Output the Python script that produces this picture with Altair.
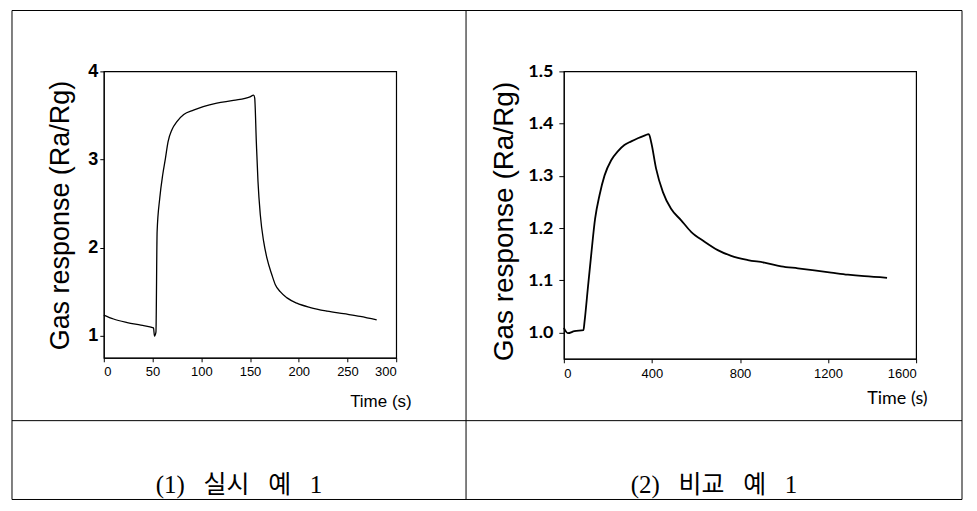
import altair as alt
import pandas as pd

# ---- data ----
t1 = [0, 10, 24, 38, 51, 52, 53.5, 54.7, 57.4, 60.5, 63.2, 65.9, 70, 75, 82, 92, 102, 116, 133, 150, 153.7,
      154.8, 156.5, 158.2, 160.6, 164, 167.4, 172.5, 176, 181, 188, 198, 212, 229, 246, 263, 280]
v1 = [1.235, 1.19, 1.15, 1.12, 1.09, 0.995, 1.04, 2.18, 2.56, 2.83, 3.01, 3.20, 3.34, 3.43, 3.51, 3.56, 3.60,
      3.64, 3.67, 3.71, 3.73, 3.70, 3.20, 2.75, 2.37, 2.07, 1.88, 1.69, 1.58, 1.50, 1.43, 1.37, 1.32, 1.28,
      1.25, 1.22, 1.18]

t2 = [0, 18, 48, 89, 94, 109, 124, 142, 162, 185, 215, 245, 275, 306, 336, 366, 386, 397, 419, 450, 487,
      533, 578, 639, 699, 760, 836, 911, 987, 1063, 1138, 1214, 1290, 1365, 1468]
v2 = [1.009, 0.999, 1.003, 1.005, 1.021, 1.085, 1.148, 1.218, 1.263, 1.301, 1.330, 1.347, 1.359, 1.366,
      1.372, 1.377, 1.380, 1.364, 1.314, 1.269, 1.237, 1.215, 1.193, 1.174, 1.158, 1.147, 1.139, 1.134,
      1.127, 1.123, 1.119, 1.115, 1.111, 1.108, 1.105]

x1_ticks = [0, 50, 100, 150, 200, 250, 300]
y1_ticks = [1, 2, 3, 4]
x2_ticks = [0, 400, 800, 1200, 1600]
y2_ticks = [1.0, 1.1, 1.2, 1.3, 1.4, 1.5]

y_title = "Gas response (Ra/Rg)"
x_title = "Time (s)"
GAP = "\u00a0\u2002"
caption1 = GAP.join(["(1)", "실시", "예", "1"])
caption2 = GAP.join(["(2)", "비교", "예", "1"])

df1 = pd.DataFrame({"t": t1, "v": v1})
df2 = pd.DataFrame({"t": t2, "v": v2})
dummy = pd.DataFrame({"d": [0]})

NARROW = "Liberation Sans Narrow, Liberation Sans, Arial, sans-serif"
SANS = "Liberation Sans, Arial, sans-serif"
CAL = "Lato, Liberation Sans, sans-serif"
CAPFONT = "Liberation Serif, Noto Sans CJK KR, serif"
LW = 1


def hrule(xa, xb, y):
    return alt.Chart(dummy).mark_rule(color="black", strokeWidth=LW).encode(
        x=alt.value(xa), x2=alt.value(xb), y=alt.value(y))


def vrule(x, ya, yb):
    return alt.Chart(dummy).mark_rule(color="black", strokeWidth=LW).encode(
        x=alt.value(x), y=alt.value(ya), y2=alt.value(yb))


# ---- panel 1 (plot origin at page 103,69) ----
line1 = alt.Chart(df1).mark_line(color="black", strokeWidth=1.3, interpolate="monotone").encode(
    x=alt.X("t:Q", scale=alt.Scale(domain=[0, 300], nice=False, zero=False),
            axis=alt.Axis(values=x1_ticks, title=x_title, grid=False, tickSize=4, tickColor="black",
                          domainColor="black", labelColor="black", labelFont=NARROW, labelFontSize=13,
                          labelPadding=4, titleFont=NARROW, titleFontSize=17, titleFontWeight="normal",
                          titleColor="black", titleAlign="right", titleAnchor="start", titleX=308,
                          titleY=49, titleBaseline="alphabetic")),
    y=alt.Y("v:Q", scale=alt.Scale(domain=[0.75, 4], nice=False, zero=False),
            axis=alt.Axis(values=y1_ticks, title=y_title, grid=False, tickSize=4, tickColor="black",
                          domainColor="black", labelColor="black", labelFont=SANS, labelFontSize=18,
                          labelFontWeight="bold", labelPadding=2, titleFont=SANS, titleFontSize=27,
                          titleFontWeight="normal", titleColor="black", titleAlign="center",
                          titleX=-35, titleY=144, titleBaseline="alphabetic", titleAngle=270)),
)

W1L, W1R = 11 - 103, 466 - 103
TOP, MID, BOT = 8 - 69, 419 - 69, 498 - 69
borders1 = [
    hrule(W1L, W1R, TOP), hrule(W1L, W1R, MID), hrule(W1L, W1R, BOT),
    vrule(W1L, TOP, BOT), vrule(W1R, TOP, BOT),
]
cap1 = alt.Chart(dummy).mark_text(text=caption1, font=CAPFONT, fontSize=25, color="black",
                                  align="center", baseline="alphabetic").encode(
    x=alt.value((W1L + W1R) / 2), y=alt.value(491 - 69))

panel1 = alt.layer(line1, *borders1, cap1).properties(width=293, height=287)

# ---- panel 2 (plot origin at page 564,69) ----
line2 = alt.Chart(df2).mark_line(color="black", strokeWidth=1.8, interpolate="monotone").encode(
    x=alt.X("t:Q", scale=alt.Scale(domain=[0, 1600], nice=False, zero=False),
            axis=alt.Axis(values=x2_ticks, format="d", title=x_title, grid=False, tickSize=4,
                          tickColor="black", domainColor="black", labelColor="black", labelFont=SANS,
                          labelFontSize=13, labelPadding=5, titleFont=CAL, titleFontSize=18,
                          titleFontWeight="normal", titleColor="black", titleAlign="right",
                          titleAnchor="start", titleX=364, titleY=45, titleBaseline="alphabetic")),
    y=alt.Y("v:Q", scale=alt.Scale(domain=[0.95, 1.5], nice=False, zero=False),
            axis=alt.Axis(values=y2_ticks, format=".1f", title=y_title, grid=False, tickSize=5,
                          tickColor="black", domainColor="black", labelColor="black", labelFont=CAL,
                          labelFontSize=18, labelFontWeight="bold", labelPadding=6, titleFont=SANS,
                          titleFontSize=28, titleFontWeight="normal", titleColor="black",
                          titleAlign="center", titleX=-51, titleY=150, titleBaseline="alphabetic",
                          titleAngle=270)),
)

W2L, W2R = 466 - 564, 963 - 564
borders2 = [
    hrule(W2L, W2R, TOP), hrule(W2L, W2R, MID), hrule(W2L, W2R, BOT),
    vrule(W2R, TOP, BOT),
]
cap2 = alt.Chart(dummy).mark_text(text=caption2, font=CAPFONT, fontSize=25, color="black",
                                  align="center", baseline="alphabetic").encode(
    x=alt.value((W2L + W2R) / 2), y=alt.value(491 - 69))

panel2 = alt.layer(line2, *borders2, cap2).properties(width=353, height=288)

chart = alt.hconcat(panel1, panel2, spacing=564 - 103 - 293, bounds="flush").properties(
    padding={"left": 2, "top": 0, "right": 5, "bottom": 0},
    background="white",
).configure_view(stroke="black", strokeWidth=1.2)

chart.save("out.html", embed_options={"renderer": "svg", "actions": False})
